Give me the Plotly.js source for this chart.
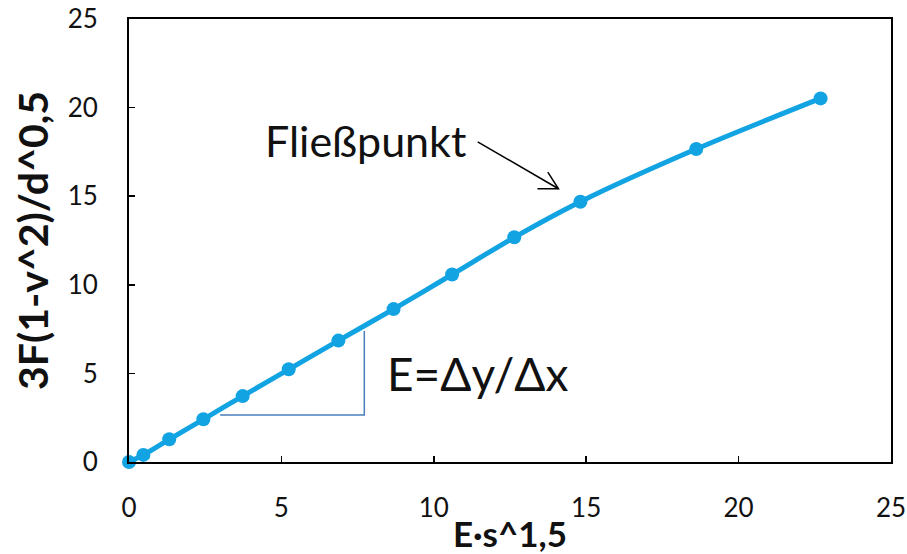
<!DOCTYPE html>
<html>
<head>
<meta charset="utf-8">
<script src="https://cdn.plot.ly/plotly-3.0.1.min.js"></script>
<style>html,body{margin:0;padding:0;background:#fff;}#chart{width:907px;height:554px;}</style>
</head>
<body>
<div id="chart"></div>
<script>
// Data
const xValues = [0, 0.47, 1.32, 2.44, 3.73, 5.24, 6.87, 8.68, 10.60, 12.64, 14.81, 18.61, 22.69];
const yValues = [0, 0.40, 1.28, 2.41, 3.72, 5.23, 6.85, 8.63, 10.58, 12.68, 14.69, 17.66, 20.52];
const tickValues = [0, 5, 10, 15, 20, 25];
const xTitle = 'E·s^1,5';
const yTitle = '3F(1-v^2)/d^0,5';
const yieldLabel = 'Fließpunkt';
const slopeLabel = 'E=Δy/Δx';

const font = 'Lato, "Open Sans", sans-serif';
const blue = '#12a3e3';

const trace = {
  x: xValues, y: yValues,
  type: 'scatter', mode: 'lines+markers',
  line: {color: blue, width: 5, shape: 'spline', smoothing: 0.8},
  marker: {color: blue, size: 14},
  cliponaxis: false,
  hoverinfo: 'skip'
};

const axisCommon = {
  range: [0, 25],
  tickvals: tickValues,
  ticktext: tickValues.map(String),
  ticks: 'inside', ticklen: 6, tickwidth: 1.5, tickcolor: '#000',
  showline: true, linecolor: '#000', linewidth: 2, mirror: true,
  showgrid: false, zeroline: false,
  tickfont: {family: font, size: 26, color: '#111'},
  fixedrange: true
};

const layout = {
  width: 907, height: 554,
  margin: {l: 129, r: 16, t: 19, b: 92},
  paper_bgcolor: '#fff', plot_bgcolor: '#fff',
  showlegend: false,
  xaxis: Object.assign({}, axisCommon, {
    ticklabelstandoff: 22,
    title: {text: xTitle, font: {family: font, size: 35, color: '#111', weight: 'bold'}, standoff: 2}
  }),
  yaxis: Object.assign({}, axisCommon, {
    ticklabelstandoff: 24,
    title: {text: yTitle, font: {family: font, size: 41, color: '#111', weight: 'bold'}, standoff: 6}
  }),
  shapes: [
    {type: 'path', xref: 'x', yref: 'y', path: 'M 2.99 2.65 L 7.72 2.65 L 7.72 7.39',
     line: {color: '#4a7ebb', width: 1.5}, layer: 'below'},
    {type: 'line', xref: 'x', yref: 'y', x0: 11.44, y0: 18.07, x1: 14.09, y1: 15.42,
     line: {color: '#000', width: 1.5}},
    {type: 'path', xref: 'x', yref: 'y', path: 'M 13.40 15.42 L 14.09 15.42 L 13.74 16.36',
     line: {color: '#000', width: 1.5}}
  ],
  annotations: [
    {text: yieldLabel, xref: 'x', yref: 'y', x: 7.75, y: 18.15, showarrow: false,
     xanchor: 'center', yanchor: 'middle', font: {family: font, size: 43, color: '#111'}},
    {text: slopeLabel, xref: 'x', yref: 'y', x: 8.4, y: 5.0, showarrow: false,
     xanchor: 'left', yanchor: 'middle', font: {family: font, size: 46, color: '#111'}}
  ]
};

Plotly.newPlot('chart', [trace], layout, {displayModeBar: false, staticPlot: true});
</script>
</body>
</html>
